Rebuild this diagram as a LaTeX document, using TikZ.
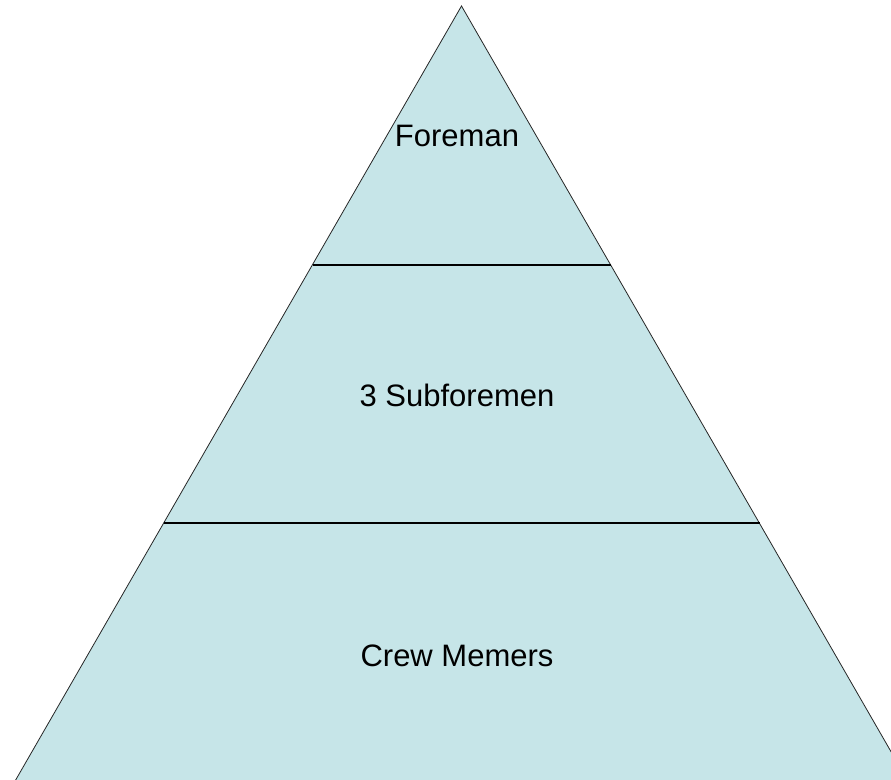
\documentclass[tikz,border=0pt]{standalone}
\usepackage{fontspec}
\setmainfont{Liberation Sans}
\usetikzlibrary{calc}
\definecolor{tierfill}{RGB}{198,229,232}

\begin{document}
\begin{tikzpicture}[x=1pt, y=-1pt,
    tier/.style={anchor=base, font=\fontsize{31}{37}\selectfont},
    divider/.style={black, line width=1.7pt}]
    % Frame
    \useasboundingbox (0,0) rectangle (891,779);
    \clip (0,0) rectangle (891,779);

    % Pyramid corners
    \coordinate (apex) at (461.5,6);
    \coordinate (baseL) at (14.5,782);
    \coordinate (baseR) at (908.5,782);

    \filldraw[fill=tierfill, draw=black!85, line width=0.8pt] (apex) -- (baseL) -- (baseR) -- cycle;

    % Tier dividers
    \draw[divider] ($(apex)!1/3!(baseL)$) -- ($(apex)!1/3!(baseR)$);
    \draw[divider] ($(apex)!2/3!(baseL)$) -- ($(apex)!2/3!(baseR)$);

    % Labels
    \node[tier] (foreman) at (457,146.7) {Foreman};
    \node[tier] (subforemen) at (457,406.7) {3 Subforemen};
    \node[tier] (crew) at (457,666.7) {Crew Memers};
\end{tikzpicture}
\end{document}
